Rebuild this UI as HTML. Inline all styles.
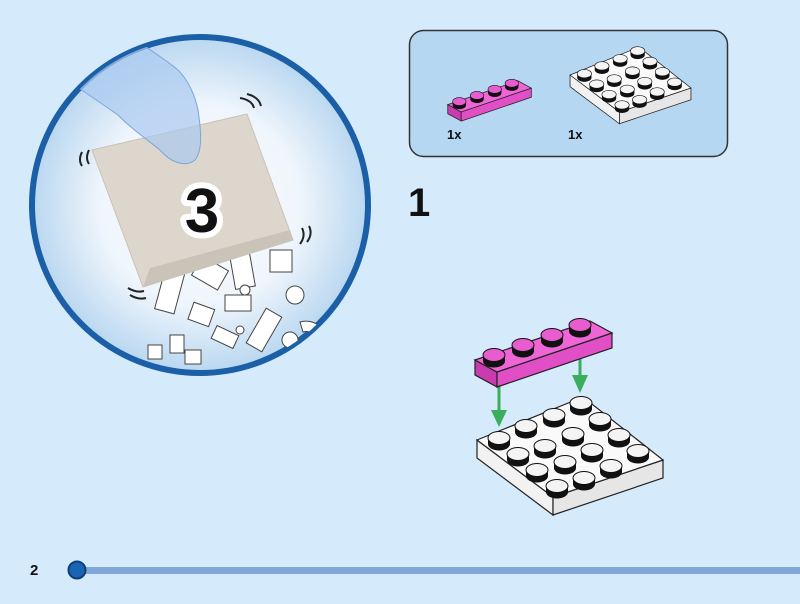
<!DOCTYPE html>
<html><head><meta charset="utf-8"><style>
html,body{margin:0;padding:0;background:#d5eafb;}
svg{display:block}
text{font-family:"Liberation Sans",sans-serif;font-weight:bold}
</style></head><body>
<svg width="800" height="604" viewBox="0 0 800 604" xmlns="http://www.w3.org/2000/svg">
<defs>
<radialGradient id="rg" cx="0.5" cy="0.5" r="0.5">
<stop offset="0" stop-color="#ffffff"/><stop offset="0.6" stop-color="#eef5fc"/><stop offset="1" stop-color="#b9d7f0"/>
</radialGradient>
<clipPath id="cc"><circle cx="200" cy="205" r="167"/></clipPath>
<g id="wstud"><path d="M-11,0 v6 a11,6.5 0 0 0 22,0 v-6z" fill="#111"/><ellipse cx="0" cy="0" rx="11" ry="6.5" fill="#f4f4f4" stroke="#111" stroke-width="1"/></g>
<g id="pstud"><path d="M-11,0 v6 a11,6.5 0 0 0 22,0 v-6z" fill="#111"/><ellipse cx="0" cy="0" rx="11" ry="6.5" fill="#e85ccf" stroke="#111" stroke-width="1"/></g>
<g id="white">
<polygon points="477,440 553,497 553,515 477,458" fill="#f2f2f2" stroke="#222" stroke-width="1.2"/>
<polygon points="553,497 663,460 663,478 553,515" fill="#e6e6e6" stroke="#222" stroke-width="1.2"/>
<polygon points="477,440 583,397 663,460 553,497" fill="#fafafa" stroke="#222" stroke-width="1.2"/>
<use href="#wstud" x="581" y="403"/><use href="#wstud" x="554" y="415"/><use href="#wstud" x="600" y="419"/>
<use href="#wstud" x="526" y="426"/><use href="#wstud" x="573" y="434"/><use href="#wstud" x="619" y="435"/>
<use href="#wstud" x="499" y="438"/><use href="#wstud" x="545" y="446"/><use href="#wstud" x="592" y="450"/><use href="#wstud" x="638" y="451"/>
<use href="#wstud" x="518" y="454"/><use href="#wstud" x="565" y="462"/><use href="#wstud" x="611" y="466"/>
<use href="#wstud" x="537" y="470"/><use href="#wstud" x="584" y="478"/>
<use href="#wstud" x="557" y="486"/>
</g>
<g id="pink">
<polygon points="475,360 497,372 497,387 475,375" fill="#c93cb0" stroke="#222" stroke-width="1.2"/>
<polygon points="497,372 612,333 612,348 497,387" fill="#e04fc6" stroke="#222" stroke-width="1.2"/>
<polygon points="475,360 590,321 612,333 497,372" fill="#ee66d6" stroke="#222" stroke-width="1.2"/>
<use href="#pstud" x="580" y="325"/><use href="#pstud" x="552" y="335"/><use href="#pstud" x="523" y="345"/><use href="#pstud" x="494" y="355"/>
</g>
</defs>

<circle cx="200" cy="205" r="168" fill="url(#rg)" stroke="#1b5fa6" stroke-width="6"/>
<g clip-path="url(#cc)">
<g fill="#fff" stroke="#444" stroke-width="1">
<rect x="160" y="270" width="20" height="42" transform="rotate(15 170 290)"/>
<rect x="195" y="262" width="30" height="22" transform="rotate(30 210 273)"/>
<rect x="232" y="248" width="20" height="40" transform="rotate(-10 242 268)"/>
<rect x="270" y="250" width="22" height="22"/>
<rect x="225" y="295" width="26" height="16"/>
<rect x="255" y="310" width="18" height="40" transform="rotate(30 264 330)"/>
<rect x="190" y="305" width="22" height="18" transform="rotate(20 200 315)"/>
<rect x="213" y="330" width="24" height="14" transform="rotate(25 225 337)"/>
<rect x="170" y="335" width="14" height="18"/>
<rect x="148" y="345" width="14" height="14"/>
<rect x="185" y="350" width="16" height="14"/>
<circle cx="295" cy="295" r="9"/><circle cx="245" cy="290" r="5"/><circle cx="240" cy="330" r="4"/>
<circle cx="290" cy="340" r="8"/>
<path d="M300,322 a22,22 0 0 1 25,10 l-8,6 a12,12 0 0 0 -14,-6z"/>
</g>
<polygon points="92,150 247,114 293,240 143,287" fill="#dcd6cc" stroke="#c8c2b7" stroke-width="1"/>
<polygon points="143,287 293,240 290,230 150,268" fill="#c9c3b8"/>
<path d="M60,75 L118,115 C130,128 148,140 160,150 C170,162 185,168 195,160 C203,150 201,130 198,110 C195,95 188,80 178,70 C160,55 140,45 125,30 L100,20 Z" fill="#a9c9ef" fill-opacity="0.7" stroke="#7ea6d8" stroke-width="1"/>
<g fill="none" stroke="#222" stroke-width="2">
<path d="M240,98 q12,2 14,10"/><path d="M247,94 q12,3 14,12"/>
<path d="M82,152 q-4,8 0,14"/><path d="M89,150 q-4,8 0,14"/>
<path d="M302,228 q4,8 -2,16"/><path d="M309,226 q4,8 -2,16"/>
<path d="M128,288 q8,5 16,3"/><path d="M130,295 q8,5 16,3"/>
</g>
</g>
<text x="202" y="232" font-size="62" text-anchor="middle" fill="#111" stroke="#fff" stroke-width="12" stroke-linejoin="round" paint-order="stroke">3</text>

<rect x="409.5" y="30.5" width="318" height="126" rx="14" fill="#b5d7f1" stroke="#333" stroke-width="1.5"/>
<g transform="translate(260,-211) scale(0.65)"><use href="#white"/></g>
<g transform="translate(158,-115) scale(0.61)"><use href="#pink"/></g>
<text x="447" y="139" font-size="13" fill="#111">1x</text>
<text x="568" y="139" font-size="13" fill="#111">1x</text>
<text x="408" y="216" font-size="40" fill="#111">1</text>

<use href="#white"/>
<g stroke="#3aae5c" stroke-width="3" fill="#3aae5c">
<line x1="499" y1="385" x2="499" y2="415"/><polygon points="491,410 507,410 499,427" stroke="none"/>
<line x1="580" y1="345" x2="580" y2="380"/><polygon points="572,375 588,375 580,393" stroke="none"/>
</g>
<use href="#pink"/>

<text x="30" y="575" font-size="15" fill="#111">2</text>
<rect x="78" y="567" width="722" height="7" fill="#82a6d8"/>
<circle cx="77" cy="570" r="8.5" fill="#1a64b4" stroke="#0d3f7a" stroke-width="2"/>
</svg>
</body></html>
